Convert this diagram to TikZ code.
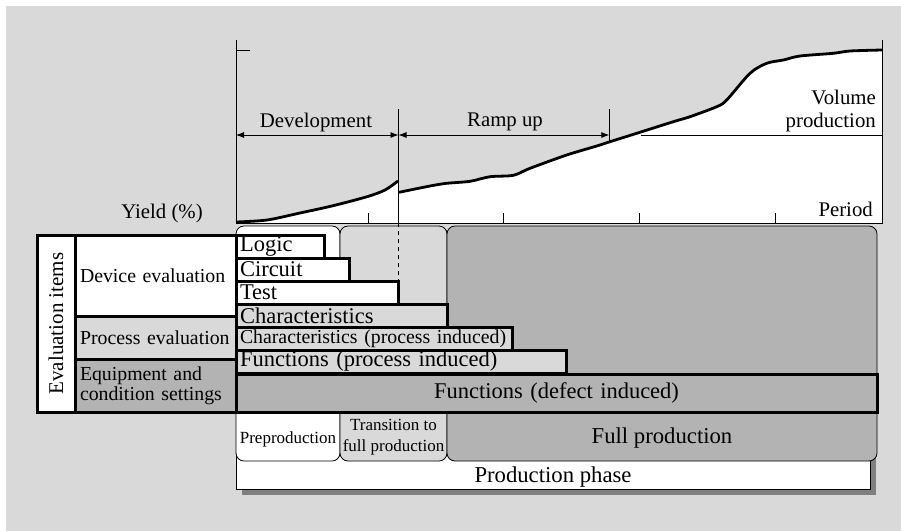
\documentclass[tikz,border=0pt]{standalone}
\usepackage{fontspec}
\setmainfont{Liberation Serif}
\usetikzlibrary{positioning, shapes.misc, arrows.meta, shadows}
\definecolor{lightgr}{HTML}{D9D9D9}
\definecolor{darkgr}{HTML}{B3B3B3}
\definecolor{shadegr}{HTML}{808080}
\tikzstyle{bar} = [rectangle, draw=black, line width=3pt, outer sep=0pt, anchor=north west, minimum height=23pt, inner xsep=4pt, inner ysep=0pt, align=left, font=\fontsize{22.5}{24}\selectfont]
\tikzstyle{item} = [rectangle, draw=black, line width=3pt, outer sep=0pt, anchor=north west, text width=151pt, inner xsep=5pt, inner ysep=0pt, align=left, font=\fontsize{19.8}{20}\selectfont]
\tikzstyle{phase} = [rectangle, rounded corners=8pt, draw=black, line width=0.8pt, outer sep=0pt, anchor=north west, inner sep=0pt, minimum height=235pt]
\tikzstyle{small} = [inner sep=0pt, align=center, font=\fontsize{17}{21}\selectfont]
\tikzstyle{big} = [inner sep=0pt, font=\fontsize{22.7}{24}\selectfont]
\tikzstyle{lbl} = [inner sep=0pt, font=\fontsize{20.8}{23}\selectfont]
\tikzstyle{axis} = [line width=0.8pt]
\tikzstyle{curve} = [line width=2.8pt, line join=round]
\tikzstyle{arrow} = [line width=0.8pt, {Latex[length=8pt,width=6pt]}-{Latex[length=8pt,width=6pt]}]

\begin{document}
\begin{tikzpicture}[x=1pt, y=-1pt]
\useasboundingbox [fill=white] (0,0) rectangle (901,531);
\fill [lightgr] (6,6) rectangle (901,531);

% yield curve
\fill [white] (236,223) -- plot[smooth] coordinates {(236,222) (267,220) (300,213) (333,205.7) (367,196.7) (385,190) (398,181)} -- (398.5,223) -- cycle;
\fill [white] (399,223) -- plot[smooth] coordinates {(399,192.3) (430,186) (446.7,183.3) (470,181.3) (490,176.7) (513.3,175.3) (530,168.3) (566.7,155) (596.7,146) (610,141.7) (636.7,133.3) (673.3,121.7) (690,116.7) (716.7,106.7) (726.7,100) (750,73.3) (766.7,63.3) (783.3,60) (800,56) (833.3,53.3) (850,51) (882,50)} -- (882,223) -- cycle;
\draw [axis] (236,40) -- (236,223) -- (882,223) -- (882,40);
\draw [axis] (236,50.7) -- (250,50.7);
\draw [axis] (368,213) -- (368,223) (503,213) -- (503,223) (639,213) -- (639,223) (775,213) -- (775,223);
\draw [curve] plot[smooth] coordinates {(236,222) (267,220) (300,213) (333,205.7) (367,196.7) (385,190) (398,181)};
\draw [curve] plot[smooth] coordinates {(399,192.3) (430,186) (446.7,183.3) (470,181.3) (490,176.7) (513.3,175.3) (530,168.3) (566.7,155) (596.7,146) (610,141.7) (636.7,133.3) (673.3,121.7) (690,116.7) (716.7,106.7) (726.7,100) (750,73.3) (766.7,63.3) (783.3,60) (800,56) (833.3,53.3) (850,51) (882,50)};
\draw [axis] (398.5,109) -- (398.5,223);
\draw [axis] (609.3,109) -- (609.3,142);
\draw [axis] (641,135) -- (882,135);

\coordinate (devstart) at (236,135);
\coordinate (devend) at (398.5,135);
\coordinate (rampend) at (609.3,135);
\draw [arrow] (devstart) -- (devend);
\draw [arrow] (devend) -- (rampend);
\node (devlbl) [lbl] at (316,122) {Development};
\node (ramplbl) [lbl] at (505,122) {Ramp up};
\node (vollbl) [lbl, align=right, anchor=east] at (876,111) {Volume\\production};
\node (periodlbl) [lbl, anchor=east] at (873,209) {Period};
\node (yieldlbl) [lbl] at (162,213) {Yield (\%)};

% production phase
\node (prodphase) [rectangle, draw=black, line width=0.8pt, fill=white, outer sep=0pt, anchor=north west, minimum width=634pt, minimum height=77pt, drop shadow={shadow xshift=6pt, shadow yshift=-6pt, fill=shadegr, opacity=1}] at (236,412) {};
\node (prodtxt) [big] at ([yshift=12pt]prodphase.south) {Production phase};

\node (prep) [phase, fill=white, minimum width=104pt] at (236,226) {};
\node (trans) [phase, fill=lightgr, minimum width=107pt] at (340,226) {};
\node (full) [phase, fill=darkgr, minimum width=430pt] at (447,226) {};
\node (preptxt) [small] at ([yshift=22pt]prep.south) {Preproduction};
\node (transtxt) [small] at ([yshift=24pt]trans.south) {Transition to\\full production};
\node (fulltxt) [big] at ([yshift=23pt]full.south) {Full production};
\draw [axis, dash pattern=on 4pt off 4pt] (398.5,223) -- (398.5,281);

% evaluation bars
\node (logic) [bar, fill=white, text width=80pt] at (236,235) {Logic};
\node (circuit) [bar, fill=white, text width=105pt] at (236,258) {Circuit};
\node (test) [bar, fill=white, text width=154pt] at (236,281) {Test};
\node (charac) [bar, fill=lightgr, text width=203pt] at (236,304) {Characteristics};
\node (charproc) [bar, fill=lightgr, text width=268pt, font=\fontsize{19.8}{22}\selectfont] at (236,327) {\mbox{Characteristics (process induced)}};
\node (funcproc) [bar, fill=lightgr, text width=322pt] at (236,350) {\mbox{Functions (process induced)}};
\node (funcdef) [bar, fill=darkgr, text width=633pt, align=center, minimum height=38pt] at (236,374) {Functions (defect induced)};

% evaluation items
\node (device) [item, fill=white, minimum height=81pt] at (75,235) {Device evaluation};
\node (process) [item, fill=lightgr, minimum height=43pt] at (75,316) {Process evaluation};
\node (equip) [item, fill=darkgr, minimum height=53pt] at (75,359) {Equipment and\\condition settings};
\node (evalitems) [rectangle, draw=black, line width=3pt, fill=white, rotate=90, minimum width=177pt, minimum height=38pt, inner sep=0pt, font=\fontsize{21}{22}\selectfont] at (56,323.5) {Evaluation items};
\end{tikzpicture}
\end{document}
